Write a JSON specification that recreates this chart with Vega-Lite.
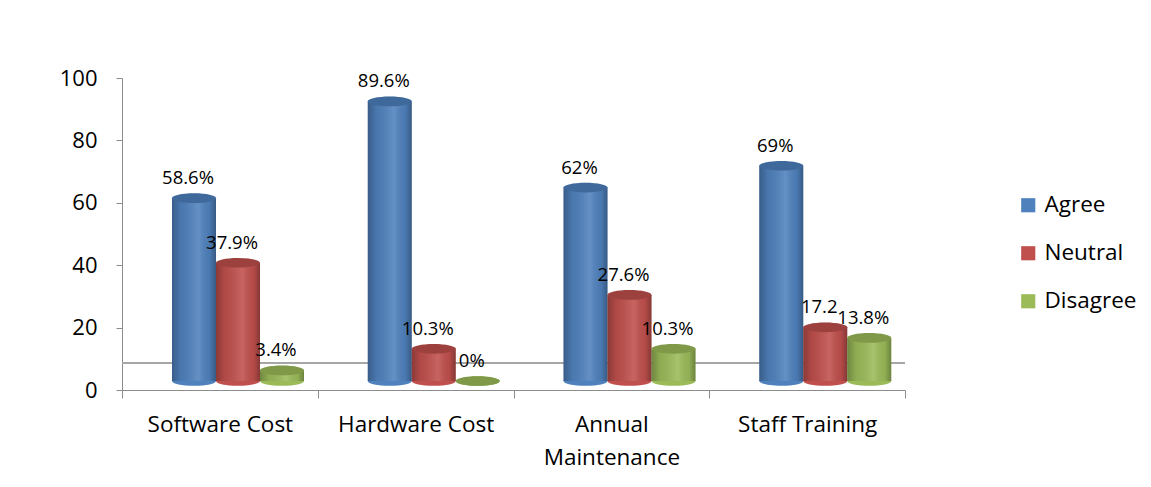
{
  "$schema": "https://vega.github.io/schema/vega-lite/v6.json",
  "autosize": {"type": "none"},
  "width": 783,
  "height": 312,
  "padding": {"left": 122, "top": 78, "right": 246, "bottom": 97},
  "background": "white",
  "config": {
    "view": {"stroke": null},
    "font": "Open Sans",
    "axis": {"labelFont": "Open Sans", "labelColor": "black", "domainColor": "#8c8c8c", "tickColor": "#8c8c8c", "grid": false, "title": null}
  },
  "data": {
    "values": [
      {"category": "Software Cost", "series": "Agree", "value": 58.6, "label": "58.6%"},
      {"category": "Software Cost", "series": "Neutral", "value": 37.9, "label": "37.9%"},
      {"category": "Software Cost", "series": "Disagree", "value": 3.4, "label": "3.4%"},
      {"category": "Hardware Cost", "series": "Agree", "value": 89.6, "label": "89.6%"},
      {"category": "Hardware Cost", "series": "Neutral", "value": 10.3, "label": "10.3%"},
      {"category": "Hardware Cost", "series": "Disagree", "value": 0, "label": "0%"},
      {"category": "Annual Maintenance", "series": "Agree", "value": 62, "label": "62%"},
      {"category": "Annual Maintenance", "series": "Neutral", "value": 27.6, "label": "27.6%"},
      {"category": "Annual Maintenance", "series": "Disagree", "value": 10.3, "label": "10.3%"},
      {"category": "Staff Training", "series": "Agree", "value": 69, "label": "69%"},
      {"category": "Staff Training", "series": "Neutral", "value": 17.2, "label": "17.2"},
      {"category": "Staff Training", "series": "Disagree", "value": 13.8, "label": "13.8%"}
    ]
  },
  "encoding": {
    "x": {
      "field": "category", "type": "nominal", "sort": null,
      "scale": {"paddingInner": 0, "paddingOuter": 0},
      "axis": {
        "labelAngle": 0, "labelFontSize": 22.5, "labelPadding": 15, "tickBand": "extent", "tickSize": 8,
        "labelExpr": "datum.value == 'Annual Maintenance' ? ['Annual', 'Maintenance'] : datum.value",
        "labelLineHeight": 33
      }
    },
    "xOffset": {"field": "series", "type": "nominal", "sort": ["Agree", "Neutral", "Disagree"], "scale": {"range": [50, 182], "paddingInner": 0, "paddingOuter": 0}},
    "y": {
      "field": "value", "type": "quantitative",
      "scale": {"domain": [0, 100], "nice": false},
      "axis": {"values": [0, 20, 40, 60, 80, 100], "labelFontSize": 22, "labelPadding": 19, "tickSize": 6}
    },
    "color": {
      "field": "series", "type": "nominal", "sort": ["Agree", "Neutral", "Disagree"],
      "scale": {"domain": ["Agree", "Neutral", "Disagree"], "range": ["#4F81BD", "#C0504D", "#9BBB59"]},
      "legend": {
        "title": null, "orient": "none", "legendX": 895, "legendY": 116,
        "symbolType": "square", "symbolSize": 200, "symbolStrokeWidth": 0, "symbolOpacity": 1,
        "labelFontSize": 22.5, "labelFont": "Open Sans", "labelColor": "black", "rowPadding": 25, "labelOffset": 5
      }
    }
  },
  "layer": [
    {
      "mark": {"type": "rule", "color": "#a6a6a6", "strokeWidth": 1.5},
      "encoding": {"y": {"datum": 8.7}, "x": null, "xOffset": null, "color": null}
    },
    {
      "mark": {"type": "point", "filled": true, "opacity": 1, "size": 1936, "yOffset": -9, "shape": "M-1,0 A1,0.22 0 1,0 1,0 A1,0.22 0 1,0 -1,0 Z"},
      "encoding": {"y": {"datum": 0}}
    },
    {
      "mark": {"type": "bar", "width": {"band": 1}, "yOffset": -9}
    },
    {
      "mark": {
        "type": "bar", "width": {"band": 1}, "yOffset": -9,
        "color": {"gradient": "linear", "x1": 0, "x2": 1, "y1": 0, "y2": 0,
          "stops": [
            {"offset": 0, "color": "rgba(0,0,0,0.28)"},
            {"offset": 0.2, "color": "rgba(0,0,0,0.08)"},
            {"offset": 0.6, "color": "rgba(255,255,255,0.12)"},
            {"offset": 0.85, "color": "rgba(0,0,0,0.06)"},
            {"offset": 1, "color": "rgba(0,0,0,0.3)"}
          ]}
      },
      "encoding": {"color": null}
    },
    {
      "mark": {"type": "point", "filled": true, "opacity": 1, "size": 1936, "yOffset": -9, "shape": "M-1,0 A1,0.22 0 1,0 1,0 A1,0.22 0 1,0 -1,0 Z"}
    },
    {
      "mark": {"type": "point", "filled": true, "opacity": 0.18, "color": "black", "size": 1936, "yOffset": -9, "shape": "M-1,0 A1,0.22 0 1,0 1,0 A1,0.22 0 1,0 -1,0 Z"},
      "encoding": {"color": null}
    },
    {
      "mark": {"type": "text", "fontSize": 18.5, "font": "Open Sans", "color": "black", "baseline": "bottom", "dy": -19, "dx": -6},
      "encoding": {"text": {"field": "label"}, "color": null}
    }
  ]
}
